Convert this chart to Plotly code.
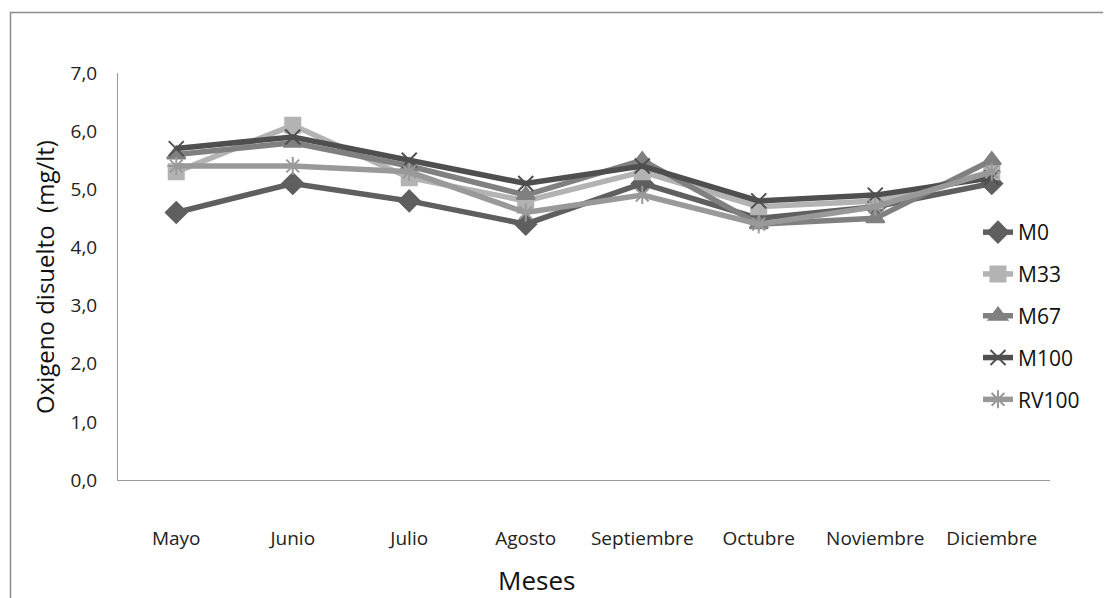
import plotly.graph_objects as go

meses = ["Mayo", "Junio", "Julio", "Agosto", "Septiembre", "Octubre", "Noviembre", "Diciembre"]
m0 = [4.6, 5.1, 4.8, 4.4, 5.1, 4.5, 4.7, 5.1]
m33 = [5.3, 6.1, 5.2, 4.8, 5.3, 4.7, 4.8, 5.3]
m67 = [5.6, 5.8, 5.4, 4.9, 5.5, 4.4, 4.5, 5.5]
m100 = [5.7, 5.9, 5.5, 5.1, 5.4, 4.8, 4.9, 5.2]
rv100 = [5.4, 5.4, 5.3, 4.6, 4.9, 4.4, 4.7, 5.3]
y_ticks = [0, 1, 2, 3, 4, 5, 6, 7]

series = [
    ("M0", m0, "#5f5f5f", "diamond", 16),
    ("M33", m33, "#b3b3b3", "square", 15),
    ("M67", m67, "#808080", "triangle-up", 16),
    ("M100", m100, "#4f4f4f", "x-thin-open", 15),
    ("RV100", rv100, "#999999", "asterisk-open", 15),
]

FONT = "Open Sans, sans-serif"
fig = go.Figure()
for name, vals, col, sym, sz in series:
    fig.add_trace(go.Scatter(
        x=meses, y=vals, name=name, mode="lines+markers",
        legendgroup=name,
        line=dict(color=col, width=5.5),
        marker=dict(symbol=sym, size=sz, color=col,
                    line=dict(color=col, width=2)),
    ))

OFF = 8  # page body offset
L, R, T, B = 118, 61, 73, 118
W, H = 1111, 598
pw, ph = W - L - R, H - T - B

def px(x):
    return (x - L) / pw

def py(y):
    return (H - B - y) / ph

fig.update_layout(
    width=W - OFF, height=H - OFF,
    margin=dict(l=L - OFF, r=R, t=T - OFF, b=B),
    paper_bgcolor="white", plot_bgcolor="white",
    separators=",.",
    font=dict(family=FONT, size=19, color="#222222"),
    showlegend=True,
    legend=dict(x=px(978), y=py(212), xanchor="left", yanchor="top",
                font=dict(size=21, family=FONT, color="#111111"),
                bgcolor="rgba(0,0,0,0)", tracegroupgap=11.5,
                traceorder="grouped"),
    xaxis=dict(range=[-0.5, 7.5], showgrid=False, zeroline=False,
               showline=True, linecolor="#999999", linewidth=1,
               ticks="", tickfont=dict(size=19, family=FONT, color="#222222"),
               ticklabelstandoff=41),
    yaxis=dict(range=[0, 7], tickvals=y_ticks, tickformat=".1f",
               showgrid=False, zeroline=False, showline=True,
               linecolor="#999999", linewidth=1, ticks="",
               tickfont=dict(size=19, family=FONT, color="#222222"),
               ticklabelstandoff=16),
    shapes=[dict(type="rect", xref="paper", yref="paper",
                 x0=px(10.5), x1=px(1130), y0=py(620), y1=py(12.5),
                 line=dict(color="#8c8c8c", width=1.5))],
    annotations=[
        dict(text="Oxigeno disuelto  (mg/lt)", xref="paper", yref="paper",
             x=px(44), y=py(277), xanchor="center", yanchor="middle",
             textangle=-90, showarrow=False,
             font=dict(size=24, family=FONT, color="#111111")),
        dict(text="Meses", xref="paper", yref="paper",
             x=px(536), y=py(580), xanchor="center", yanchor="middle",
             showarrow=False,
             font=dict(size=26, family=FONT, color="#111111")),
    ],
)

fig.write_html("out.html")
